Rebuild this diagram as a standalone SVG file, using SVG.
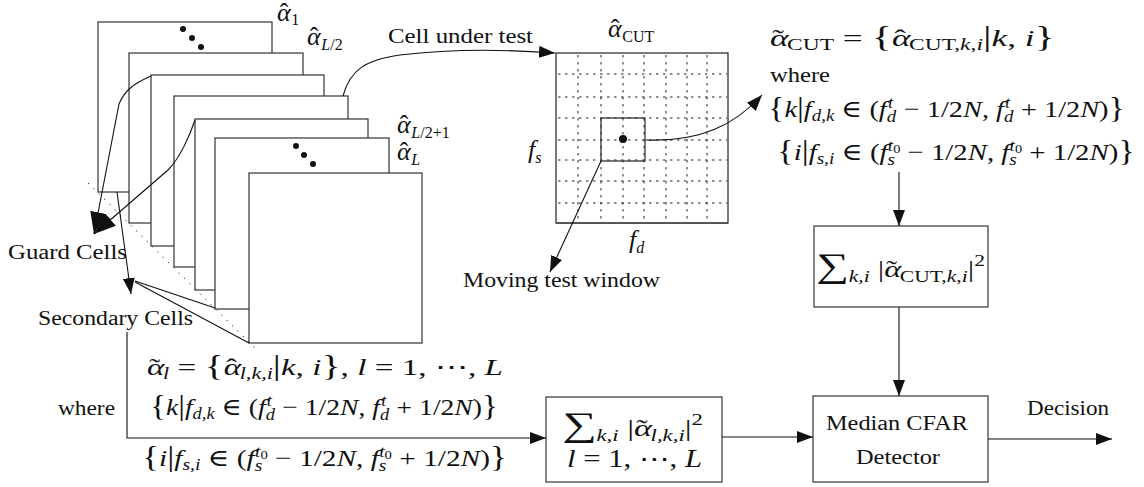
<svg xmlns="http://www.w3.org/2000/svg" width="1144" height="487" viewBox="0 0 1144 487">
<style>
.t{font-family:"Liberation Serif","DejaVu Serif",serif;font-size:20px;fill:#111}
.m{font-family:"Liberation Serif","DejaVu Serif",serif;font-size:24px;fill:#111}
.a{font-family:"Liberation Serif","DejaVu Serif",serif;font-size:26px;fill:#111}
.i{font-style:italic}
.s{font-size:16px}
.br{font-size:29px}
.big{font-size:34px}
.frame{fill:#fff;stroke:#333;stroke-width:1.2}
.ln{fill:none;stroke:#111;stroke-width:1.1}
.box{fill:#fff;stroke:#444;stroke-width:1.3}
.dash{stroke:#222;stroke-width:1;stroke-dasharray:2.5 4.5}
.dot{fill:#111}
</style>
<defs>
<marker id="a" viewBox="0 0 16 12" refX="16" refY="6" markerWidth="16" markerHeight="12" markerUnits="userSpaceOnUse" orient="auto"><path d="M0,0L16,6L0,12z" fill="#111"/></marker>
<marker id="ab" viewBox="0 0 22 16" refX="22" refY="8" markerWidth="22" markerHeight="16" markerUnits="userSpaceOnUse" orient="auto"><path d="M0,0L22,8L0,16z" fill="#111"/></marker>
</defs>

<g id="frames">
<rect class="frame" x="98" y="22" width="174" height="170"/>
<rect class="frame" x="129" y="53" width="174" height="170"/>
<rect class="frame" x="151" y="75" width="173" height="171"/>
<rect class="frame" x="174" y="96" width="174" height="171"/>
<rect class="frame" x="195" y="119" width="173" height="171"/>
<rect class="frame" x="215" y="138" width="174" height="171"/>
<rect class="frame" x="249" y="173" width="173" height="170"/>
<circle class="dot" cx="183" cy="29" r="3"/><circle class="dot" cx="192" cy="38" r="3"/><circle class="dot" cx="201" cy="47" r="3"/>
<circle class="dot" cx="296" cy="146" r="3"/><circle class="dot" cx="304" cy="155" r="3"/><circle class="dot" cx="313" cy="164" r="3"/>
<line x1="88" y1="183" x2="256" y2="349" stroke="#333" stroke-width="1" stroke-dasharray="1.5 6"/>
</g>

<g id="frame-labels">
<text class="a" x="277" y="21"><tspan class="i">α</tspan><tspan dx="-11">ˆ</tspan><tspan class="s" dx="3" dy="4">1</tspan></text>
<text class="a" x="307" y="45"><tspan class="i">α</tspan><tspan dx="-11">ˆ</tspan><tspan class="s i" dx="3" dy="5">L</tspan><tspan class="s">/2</tspan></text>
<text class="a" x="397" y="133"><tspan class="i">α</tspan><tspan dx="-11">ˆ</tspan><tspan class="s i" dx="3" dy="5">L</tspan><tspan class="s">/2+1</tspan></text>
<text class="a" x="397" y="160"><tspan class="i">α</tspan><tspan dx="-11">ˆ</tspan><tspan class="s i" dx="3" dy="5">L</tspan></text>
</g>

<g id="grid">
<rect x="556" y="53" width="172" height="170" fill="#fff" stroke="#222" stroke-width="1.2"/>
<line x1="556" y1="223" x2="728" y2="223" stroke="#555" stroke-width="1.8"/>
<g class="dash">
<line x1="578" y1="55" x2="578" y2="222"/><line x1="601" y1="55" x2="601" y2="222"/><line x1="623" y1="55" x2="623" y2="222"/><line x1="644" y1="55" x2="644" y2="222"/><line x1="666" y1="55" x2="666" y2="222"/><line x1="687" y1="55" x2="687" y2="222"/><line x1="707" y1="55" x2="707" y2="222"/>
<line x1="558" y1="74" x2="727" y2="74"/><line x1="558" y1="97" x2="727" y2="97"/><line x1="558" y1="118" x2="727" y2="118"/><line x1="558" y1="140" x2="727" y2="140"/><line x1="558" y1="160" x2="727" y2="160"/><line x1="558" y1="181" x2="727" y2="181"/><line x1="558" y1="203" x2="727" y2="203"/>
</g>
<rect x="601" y="118" width="44" height="43" fill="none" stroke="#333" stroke-width="1.3"/>
<circle class="dot" cx="623" cy="139" r="4"/>
<text class="a" x="608" y="37"><tspan class="i">α</tspan><tspan dx="-11">ˆ</tspan><tspan class="s" dx="3" dy="5">CUT</tspan></text>
<text class="a" x="528" y="158"><tspan class="i">f</tspan><tspan class="s i" dy="5">s</tspan></text>
<text class="a" x="629" y="248"><tspan class="i">f</tspan><tspan class="s i" dy="5">d</tspan></text>
</g>

<g id="labels">
<text class="t" x="388" y="43" textLength="145" lengthAdjust="spacingAndGlyphs">Cell under test</text>
<text class="t" x="463" y="287" textLength="197" lengthAdjust="spacingAndGlyphs">Moving test window</text>
<text class="t" x="8" y="259" textLength="119" lengthAdjust="spacingAndGlyphs">Guard Cells</text>
<text class="t" x="38" y="325" textLength="155" lengthAdjust="spacingAndGlyphs">Secondary Cells</text>
<text class="t" x="1027" y="415" textLength="82" lengthAdjust="spacingAndGlyphs">Decision</text>
<text class="t" x="770" y="82" textLength="60" lengthAdjust="spacingAndGlyphs">where</text>
<text class="t" x="58" y="415" textLength="57" lengthAdjust="spacingAndGlyphs">where</text>
</g>

<g id="eq-cut">
<text class="m" x="770" y="46" textLength="285" lengthAdjust="spacingAndGlyphs"><tspan class="i">α</tspan><tspan dx="-11">˜</tspan><tspan class="s" dx="2" dy="4">CUT</tspan><tspan dy="-4"> = </tspan><tspan class="br">{</tspan><tspan class="i">α</tspan><tspan dx="-11">ˆ</tspan><tspan class="s" dx="2" dy="4">CUT,<tspan class="i">k</tspan>,<tspan class="i">i</tspan></tspan><tspan class="br" dy="-4">|</tspan><tspan class="i">k</tspan>, <tspan class="i">i</tspan><tspan class="br">}</tspan></text>
<text class="m" x="768" y="117" textLength="357" lengthAdjust="spacingAndGlyphs"><tspan class="br">{</tspan><tspan class="i">k</tspan><tspan class="br">|</tspan><tspan class="i">f</tspan><tspan class="s i" dy="4">d,k</tspan><tspan dy="-4"> ∈ (</tspan><tspan class="i">f</tspan><tspan class="s i" dy="5">d</tspan><tspan class="s i" dx="-7" dy="-14">t</tspan><tspan dx="3" dy="9"> − 1/2</tspan><tspan class="i">N</tspan>, <tspan class="i">f</tspan><tspan class="s i" dy="5">d</tspan><tspan class="s i" dx="-7" dy="-14">t</tspan><tspan dx="3" dy="9"> + 1/2</tspan><tspan class="i">N</tspan>)<tspan class="br">}</tspan></text>
<text class="m" x="777" y="160" textLength="358" lengthAdjust="spacingAndGlyphs"><tspan class="br">{</tspan><tspan class="i">i</tspan><tspan class="br">|</tspan><tspan class="i">f</tspan><tspan class="s i" dy="4">s,i</tspan><tspan dy="-4"> ∈ (</tspan><tspan class="i">f</tspan><tspan class="s i" dy="5">s</tspan><tspan class="s i" dx="-6" dy="-14">t</tspan><tspan style="font-size:12px" dy="2">0</tspan><tspan dy="7"> − 1/2</tspan><tspan class="i">N</tspan>, <tspan class="i">f</tspan><tspan class="s i" dy="5">s</tspan><tspan class="s i" dx="-6" dy="-14">t</tspan><tspan style="font-size:12px" dy="2">0</tspan><tspan dy="7"> + 1/2</tspan><tspan class="i">N</tspan>)<tspan class="br">}</tspan></text>
</g>

<g id="eq-l">
<text class="m" x="147" y="375" textLength="356" lengthAdjust="spacingAndGlyphs"><tspan class="i">α</tspan><tspan dx="-11">˜</tspan><tspan class="s i" dx="2" dy="4">l</tspan><tspan dy="-4"> = </tspan><tspan class="br">{</tspan><tspan class="i">α</tspan><tspan dx="-11">ˆ</tspan><tspan class="s i" dx="2" dy="4">l,k,i</tspan><tspan class="br" dy="-4">|</tspan><tspan class="i">k</tspan>, <tspan class="i">i</tspan><tspan class="br">}</tspan>, <tspan class="i">l</tspan> = 1, ⋯, <tspan class="i">L</tspan></text>
<text class="m" x="150" y="415" textLength="348" lengthAdjust="spacingAndGlyphs"><tspan class="br">{</tspan><tspan class="i">k</tspan><tspan class="br">|</tspan><tspan class="i">f</tspan><tspan class="s i" dy="4">d,k</tspan><tspan dy="-4"> ∈ (</tspan><tspan class="i">f</tspan><tspan class="s i" dy="5">d</tspan><tspan class="s i" dx="-7" dy="-14">t</tspan><tspan dx="3" dy="9"> − 1/2</tspan><tspan class="i">N</tspan>, <tspan class="i">f</tspan><tspan class="s i" dy="5">d</tspan><tspan class="s i" dx="-7" dy="-14">t</tspan><tspan dx="3" dy="9"> + 1/2</tspan><tspan class="i">N</tspan>)<tspan class="br">}</tspan></text>
<text class="m" x="142" y="466" textLength="365" lengthAdjust="spacingAndGlyphs"><tspan class="br">{</tspan><tspan class="i">i</tspan><tspan class="br">|</tspan><tspan class="i">f</tspan><tspan class="s i" dy="4">s,i</tspan><tspan dy="-4"> ∈ (</tspan><tspan class="i">f</tspan><tspan class="s i" dy="5">s</tspan><tspan class="s i" dx="-6" dy="-14">t</tspan><tspan style="font-size:12px" dy="2">0</tspan><tspan dy="7"> − 1/2</tspan><tspan class="i">N</tspan>, <tspan class="i">f</tspan><tspan class="s i" dy="5">s</tspan><tspan class="s i" dx="-6" dy="-14">t</tspan><tspan style="font-size:12px" dy="2">0</tspan><tspan dy="7"> + 1/2</tspan><tspan class="i">N</tspan>)<tspan class="br">}</tspan></text>
</g>

<g id="sum-cut">
<rect class="box" x="814" y="226" width="174" height="81"/>
<text class="m" x="816" y="277" textLength="169" lengthAdjust="spacingAndGlyphs"><tspan class="big">∑</tspan><tspan class="s i" dy="5">k,i</tspan><tspan dy="-5"> |</tspan><tspan class="i">α</tspan><tspan dx="-11">˜</tspan><tspan class="s" dx="2" dy="5">CUT,<tspan class="i">k</tspan>,<tspan class="i">i</tspan></tspan><tspan dy="-5">|</tspan><tspan class="s" dy="-11">2</tspan></text>
</g>

<g id="sum-l">
<rect class="box" x="546" y="397" width="176" height="85"/>
<text class="m" x="562" y="436" textLength="141" lengthAdjust="spacingAndGlyphs"><tspan class="big">∑</tspan><tspan class="s i" dy="5">k,i</tspan><tspan dy="-5"> |</tspan><tspan class="i">α</tspan><tspan dx="-11">˜</tspan><tspan class="s i" dx="2" dy="5">l,k,i</tspan><tspan dy="-5">|</tspan><tspan class="s" dy="-11">2</tspan></text>
<text class="m" x="567" y="467" textLength="135" lengthAdjust="spacingAndGlyphs" style="font-size:25px"><tspan class="i">l</tspan> = 1, ⋯, <tspan class="i">L</tspan></text>
</g>

<g id="cfar">
<rect class="box" x="813" y="396" width="175" height="86"/>
<text class="t" x="826" y="430" textLength="142" lengthAdjust="spacingAndGlyphs">Median CFAR</text>
<text class="t" x="856" y="464" textLength="84" lengthAdjust="spacingAndGlyphs">Detector</text>
</g>

<g id="connectors">
<path class="ln" d="M151,76 C132,84 124,92 119,104 L94,234" marker-end="url(#ab)"/>
<path class="ln" d="M195,120 C190,135 180,158 168,170 L94,234" marker-end="url(#ab)"/>
<path class="ln" d="M117,192 L131,294" marker-end="url(#a)"/>
<path class="ln" d="M215,308 L135,281"/>
<path class="ln" d="M249,343 L135,282"/>
<path class="ln" d="M343,96 C350,70 365,60 400,55 C450,49 500,49 555,53" marker-end="url(#a)"/>
<path class="ln" d="M646,140 C700,142 735,125 762,95" marker-end="url(#a)"/>
<path class="ln" d="M601,161 L550,272" marker-end="url(#a)"/>
<path class="ln" d="M899,172 L899,226" marker-end="url(#a)"/>
<path class="ln" d="M899,307 L899,396" marker-end="url(#a)"/>
<path class="ln" d="M127,332 L127,438 L546,438" marker-end="url(#a)"/>
<path class="ln" d="M722,437 L813,437" marker-end="url(#a)"/>
<path class="ln" d="M988,439 L1112,439" marker-end="url(#a)"/>
</g>
</svg>
